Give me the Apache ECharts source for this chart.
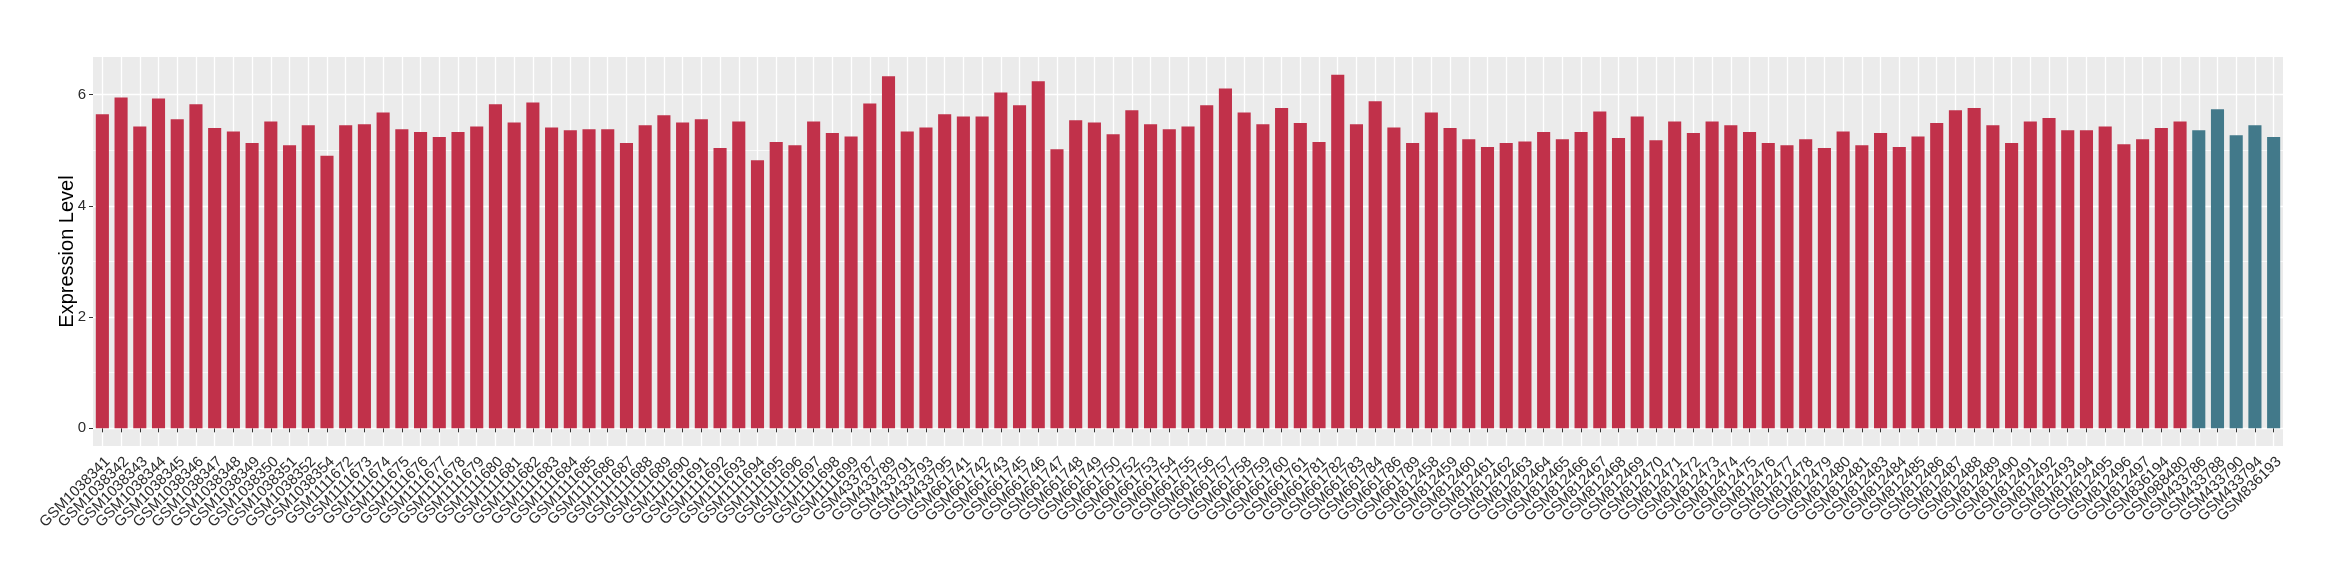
<!DOCTYPE html>
<html>
<head>
<meta charset="utf-8">
<script src="https://cdn.jsdelivr.net/npm/echarts@6/dist/echarts.min.js"></script>
<style>
html,body{margin:0;padding:0;background:#fff;}
#chart{width:2340px;height:580px;}
</style>
</head>
<body>
<div id="chart"></div>
<script>
const categories = [
'GSM1038341','GSM1038342','GSM1038343','GSM1038344','GSM1038345','GSM1038346','GSM1038347','GSM1038348','GSM1038349','GSM1038350','GSM1038351','GSM1038352','GSM1038354',
'GSM1111672','GSM1111673','GSM1111674','GSM1111675','GSM1111676','GSM1111677','GSM1111678','GSM1111679','GSM1111680','GSM1111681','GSM1111682','GSM1111683','GSM1111684','GSM1111685','GSM1111686','GSM1111687','GSM1111688','GSM1111689','GSM1111690','GSM1111691','GSM1111692','GSM1111693','GSM1111694','GSM1111695','GSM1111696','GSM1111697','GSM1111698','GSM1111699',
'GSM433787','GSM433789','GSM433791','GSM433793','GSM433795',
'GSM661741','GSM661742','GSM661743','GSM661745','GSM661746','GSM661747','GSM661748','GSM661749','GSM661750','GSM661752','GSM661753','GSM661754','GSM661755','GSM661756','GSM661757','GSM661758','GSM661759','GSM661760','GSM661761','GSM661781','GSM661782','GSM661783','GSM661784','GSM661786','GSM661789',
'GSM812458','GSM812459','GSM812460','GSM812461','GSM812462','GSM812463','GSM812464','GSM812465','GSM812466','GSM812467','GSM812468','GSM812469','GSM812470','GSM812471','GSM812472','GSM812473','GSM812474','GSM812475','GSM812476','GSM812477','GSM812478','GSM812479','GSM812480','GSM812481','GSM812483','GSM812484','GSM812485','GSM812486','GSM812487','GSM812488','GSM812489','GSM812490','GSM812491','GSM812492','GSM812493','GSM812494','GSM812495','GSM812496','GSM812497',
'GSM836194','GSM988480',
'GSM433786','GSM433788','GSM433790','GSM433794','GSM836193'
];

const expression = [
5.65,5.95,5.43,5.93,5.56,5.83,5.40,5.34,5.13,5.52,5.09,5.45,4.90,
5.45,5.47,5.68,5.38,5.33,5.24,5.33,5.43,5.83,5.50,5.86,5.41,5.36,5.38,5.38,5.13,5.45,5.63,5.50,5.56,5.04,5.52,4.82,5.15,5.09,5.52,5.31,5.25,
5.84,6.33,5.34,5.41,5.65,
5.61,5.61,6.04,5.81,6.24,5.02,5.54,5.50,5.29,5.72,5.47,5.38,5.43,5.81,6.11,5.68,5.47,5.76,5.49,5.15,6.36,5.47,5.88,5.41,5.13,
5.68,5.40,5.20,5.06,5.13,5.16,5.33,5.20,5.33,5.70,5.22,5.61,5.18,5.52,5.31,5.52,5.45,5.33,5.13,5.09,5.20,5.04,5.34,5.09,5.31,5.06,5.25,5.49,5.72,5.76,5.45,5.13,5.52,5.58,5.36,5.36,5.43,5.11,5.20,
5.40,5.52,
5.36,5.74,5.27,5.45,5.24
];

const group = categories.map((c, i) => i < 112 ? 'A' : 'B');
const groupColors = { A: '#C1314A', B: '#42798A' };
const yTicks = [0, 2, 4, 6];

const maxVal = Math.max(...expression);
const pad = 0.05 * maxVal;

const chart = echarts.init(document.getElementById('chart'), null, { renderer: 'canvas' });

const textFont = 'Liberation Sans, Arial, Helvetica, sans-serif';

chart.setOption({
  animation: false,
  backgroundColor: '#ffffff',
  grid: {
    left: 93, right: 57, top: 57, bottom: 134,
    show: true, backgroundColor: '#EBEBEB', borderWidth: 0
  },
  xAxis: {
    type: 'category',
    data: categories,
    boundaryGap: true,
    axisLine: { show: false },
    axisTick: { show: true, alignWithLabel: true, length: 4, lineStyle: { color: '#333333', width: 1 } },
    splitLine: { show: true, alignWithLabel: true, lineStyle: { color: '#ffffff', width: 1.3 } },
    axisLabel: {
      interval: 0, rotate: 45, margin: 8,
      align: 'right', verticalAlign: 'top',
      color: '#2b2b2b', fontSize: 15, fontFamily: textFont
    }
  },
  yAxis: {
    type: 'value',
    min: -pad,
    max: maxVal + pad,
    splitNumber: 4,
    minInterval: 2,
    maxInterval: 2,
    name: 'Expression Level',
    nameLocation: 'middle',
    nameGap: 16,
    nameMoveOverlap: false,
    nameTextStyle: { color: '#000000', fontSize: 20, fontFamily: textFont },
    axisLine: { show: false },
    axisTick: { show: true, length: 4, customValues: yTicks, lineStyle: { color: '#333333', width: 1 } },
    axisLabel: { show: true, margin: 7, customValues: yTicks, color: '#2b2b2b', fontSize: 15, fontFamily: textFont,
      formatter: v => String(v) },
    splitLine: { show: true, lineStyle: { color: '#ffffff', width: 1.3 } },
    minorTick: { show: false, splitNumber: 2 },
    minorSplitLine: { show: true, lineStyle: { color: '#ffffff', width: 0.7 } }
  },
  series: [{
    type: 'bar',
    barWidth: '70%',
    data: expression.map((v, i) => ({ value: v, itemStyle: { color: groupColors[group[i]] } })),
    emphasis: { disabled: true }
  }]
});
</script>
</body>
</html>
